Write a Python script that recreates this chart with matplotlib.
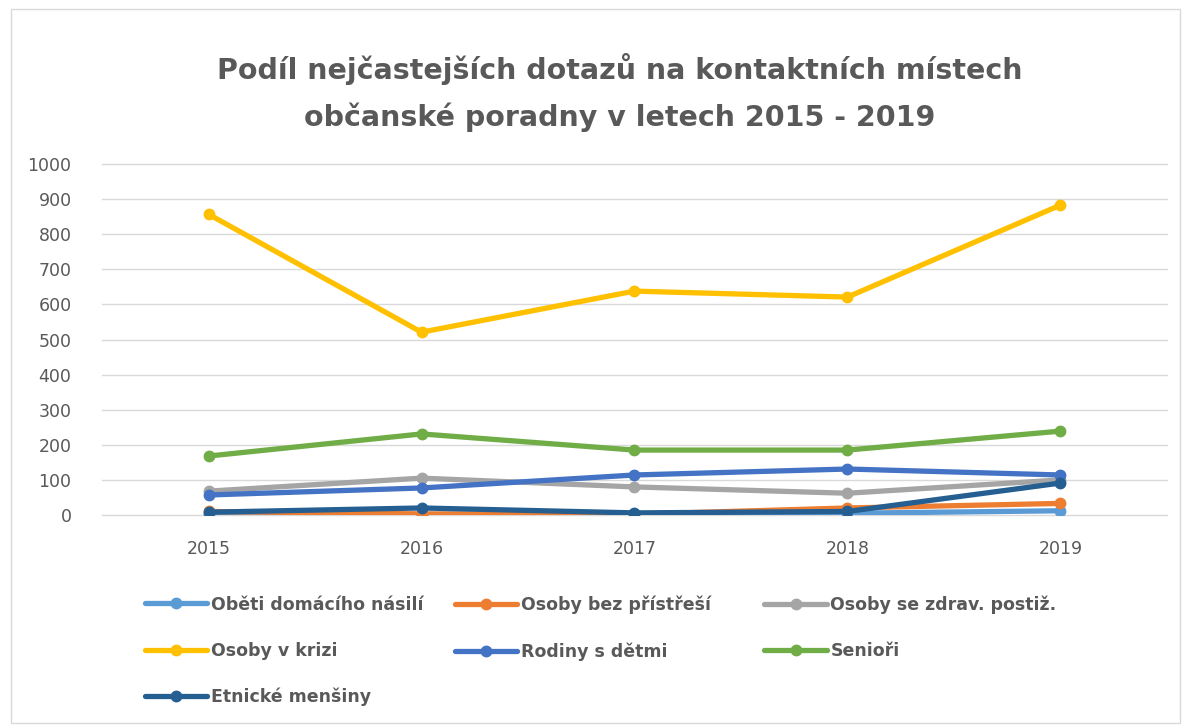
import matplotlib
matplotlib.use("Agg")
import matplotlib.pyplot as plt
from matplotlib.patches import Rectangle

# ── Data ──────────────────────────────────────────────────────────────────────
years = ["2015", "2016", "2017", "2018", "2019"]

obeti_nasili   = [2, 2, 2, 5, 12]
bez_pristresi  = [10, 3, 2, 20, 33]
zdrav_postiz   = [68, 105, 80, 62, 100]
osoby_v_krizi  = [857, 521, 638, 621, 883]
rodiny_s_detmi = [57, 77, 114, 131, 114]
seniori        = [168, 231, 185, 185, 239]
etnicke        = [8, 20, 6, 10, 91]

series_names = ["Oběti domácího násilí", "Osoby bez přístřeší",
                "Osoby se zdrav. postiž.", "Osoby v krizi",
                "Rodiny s dětmi", "Senioři", "Etnické menšiny"]
series_values = [obeti_nasili, bez_pristresi, zdrav_postiz, osoby_v_krizi,
                 rodiny_s_detmi, seniori, etnicke]
series_colors = ["#5B9BD5", "#ED7D31", "#A5A5A5", "#FFC000",
                 "#4472C4", "#70AD47", "#255E91"]

TEXT = "#595959"

fig = plt.figure(figsize=(11.87, 7.28), dpi=100)
fig.patches.append(Rectangle((0.009, 0.007), 0.985, 0.98, transform=fig.transFigure,
                             fill=False, edgecolor="#D9D9D9", linewidth=1))

ax = fig.add_axes([0.086, 0.2926, 0.897, 0.482])
x = list(range(len(years)))
lines = []
for name, vals, col in zip(series_names, series_values, series_colors):
    ln, = ax.plot(x, vals, color=col, linewidth=3.8, marker="o",
                  markersize=7.5, label=name, solid_capstyle="round")
    lines.append(ln)

ax.set_xlim(-0.5, len(years) - 0.5)
ax.set_ylim(0, 1000)
ax.set_yticks(range(0, 1001, 100))
ax.set_xticks(x)
ax.set_xticklabels(years)
ax.grid(axis="y", color="#D9D9D9", linewidth=1)
for gl in ax.get_ygridlines():
    gl.set_clip_on(False)
ax.set_axisbelow(True)
for s in ax.spines.values():
    s.set_visible(False)
ax.tick_params(length=0, labelsize=12.5, labelcolor=TEXT)
ax.tick_params(axis="x", pad=18)
ax.tick_params(axis="y", pad=22)

fig.text(0.522, 0.873, "Podíl nejčastejších dotazů na kontaktních místech\nobčanské poradny v letech 2015 - 2019",
         ha="center", va="center", fontsize=20.5, fontweight="bold", color=TEXT,
         linespacing=1.75)

# legend: three columns at fixed positions
col_x = [0.122, 0.383, 0.644]
cols = [[0, 3, 6], [1, 4], [2, 5]]
for cx, idxs in zip(col_x, cols):
    fig.legend([lines[i] for i in idxs], [series_names[i] for i in idxs],
               loc="upper left", bbox_to_anchor=(cx, 0.182), frameon=False,
               handlelength=3.6, handletextpad=0.2, labelspacing=1.62,
               borderaxespad=0, borderpad=0,
               prop={"size": 12.5, "weight": "bold"}, labelcolor=TEXT)

fig.savefig("out.png", dpi=100)
